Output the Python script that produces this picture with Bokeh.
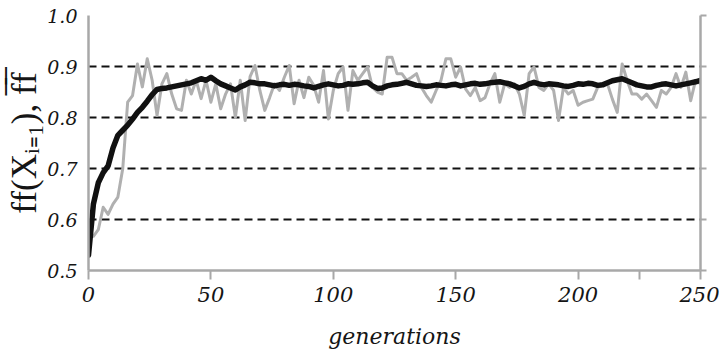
from bokeh.plotting import figure
from bokeh.models import Range1d, FixedTicker, LinearAxis, CustomLabelingPolicy
from bokeh.embed import file_html
from bokeh.resources import INLINE

# ---- data ----
generations = list(range(0, 251, 2))

best_fitness = [
    0.567, 0.567, 0.580, 0.624, 0.610, 0.630, 0.644, 0.700, 0.830, 0.843,
    0.905, 0.860, 0.915, 0.873, 0.804, 0.866, 0.886, 0.846, 0.817, 0.814,
    0.873, 0.846, 0.873, 0.837, 0.873, 0.830, 0.866, 0.817, 0.846, 0.866,
    0.800, 0.873, 0.794, 0.880, 0.902, 0.853, 0.814, 0.839, 0.866, 0.853,
    0.879, 0.902, 0.827, 0.873, 0.839, 0.879, 0.863, 0.830, 0.892, 0.797,
    0.853, 0.886, 0.899, 0.814, 0.892, 0.873, 0.886, 0.899, 0.859, 0.850,
    0.846, 0.918, 0.918, 0.886, 0.886, 0.873, 0.879, 0.886, 0.859, 0.843,
    0.830, 0.853, 0.873, 0.915, 0.915, 0.879, 0.899, 0.856, 0.843, 0.859,
    0.833, 0.839, 0.866, 0.886, 0.830, 0.866, 0.859, 0.866, 0.846, 0.804,
    0.886, 0.899, 0.859, 0.853, 0.866, 0.853, 0.794, 0.859, 0.846, 0.853,
    0.824, 0.830, 0.833, 0.836, 0.859, 0.863, 0.866, 0.836, 0.810, 0.905,
    0.873, 0.846, 0.846, 0.836, 0.846, 0.833, 0.820, 0.853, 0.846, 0.859,
    0.886, 0.859, 0.889, 0.833, 0.873, 0.866,
]

mean_fitness = [
    0.530, 0.630, 0.672, 0.692, 0.705, 0.740, 0.765, 0.775, 0.785, 0.797,
    0.810, 0.820, 0.832, 0.845, 0.855, 0.857, 0.858, 0.860, 0.862, 0.864,
    0.866, 0.868, 0.872, 0.876, 0.873, 0.879, 0.872, 0.866, 0.862, 0.858,
    0.854, 0.860, 0.864, 0.869, 0.868, 0.866, 0.866, 0.864, 0.862, 0.864,
    0.865, 0.863, 0.865, 0.864, 0.862, 0.861, 0.858, 0.861, 0.864, 0.866,
    0.864, 0.862, 0.863, 0.866, 0.865, 0.866, 0.868, 0.869, 0.862, 0.857,
    0.858, 0.862, 0.864, 0.865, 0.867, 0.869, 0.866, 0.863, 0.862, 0.861,
    0.862, 0.864, 0.863, 0.862, 0.864, 0.865, 0.862, 0.864, 0.866, 0.867,
    0.865, 0.866, 0.868, 0.869, 0.870, 0.868, 0.866, 0.862, 0.858, 0.861,
    0.866, 0.869, 0.866, 0.864, 0.866, 0.865, 0.864, 0.862, 0.861, 0.863,
    0.866, 0.865, 0.867, 0.866, 0.863, 0.864, 0.868, 0.872, 0.874, 0.876,
    0.872, 0.868, 0.864, 0.862, 0.860, 0.860, 0.863, 0.865, 0.866, 0.864,
    0.862, 0.864, 0.866, 0.868, 0.870, 0.873,
]

x_ticks = [0, 50, 100, 150, 200, 250]
x_minor_ticks = [225]
y_ticks = [0.5, 0.6, 0.7, 0.8, 0.9, 1.0]
y_tick_labels = ["0.5", "0.6", "0.7", "0.8", "0.9", "1.0"]
grid_values = [0.6, 0.7, 0.8, 0.9, 1.0]

x_label = "generations"
y_label = "ff(Xᵢ₌₁), f̅f̅"

AXIS_GREY = "#a8a8a8"
INK = "#151515"
ITALIC_SERIF = "DejaVu Serif"

p = figure(
    width=719, height=358,
    x_range=Range1d(0, 250), y_range=Range1d(0.5, 1.0),
    output_backend="svg", toolbar_location=None,
    min_border_left=88, min_border_right=19,
    min_border_top=15, min_border_bottom=88,
    x_axis_label=x_label, y_axis_label=y_label,
)
p.outline_line_color = None
p.background_fill_color = "white"
p.border_fill_color = "white"

# grid
p.xgrid.visible = False
p.ygrid.ticker = FixedTicker(ticks=grid_values)
p.ygrid.grid_line_color = "#111111"
p.ygrid.grid_line_dash = "8 5"
p.ygrid.grid_line_width = 2

# x axis
xa = p.xaxis[0]
xa.ticker = FixedTicker(ticks=x_ticks, minor_ticks=x_minor_ticks)
xa.axis_line_color = AXIS_GREY
xa.axis_line_width = 2.5
xa.major_tick_line_color = AXIS_GREY
xa.major_tick_line_width = 2
xa.major_tick_in = 0
xa.major_tick_out = 9
xa.minor_tick_line_color = AXIS_GREY
xa.minor_tick_line_width = 2
xa.minor_tick_in = 0
xa.minor_tick_out = 9
xa.major_label_text_font = ITALIC_SERIF
xa.major_label_text_font_style = "italic"
xa.major_label_text_font_size = "21px"
xa.major_label_text_color = INK
xa.major_label_standoff = 7
xa.axis_label_text_font = ITALIC_SERIF
xa.axis_label_text_font_style = "italic"
xa.axis_label_text_font_size = "22px"
xa.axis_label_text_color = INK
xa.axis_label_standoff = 19

# y axis
ya = p.yaxis[0]
ya.ticker = FixedTicker(ticks=y_ticks)
ya.major_label_overrides = {t: s for t, s in zip(y_ticks, y_tick_labels)}
ya.axis_line_color = AXIS_GREY
ya.axis_line_width = 2.5
ya.major_tick_line_color = None
ya.minor_tick_line_color = None
ya.major_label_text_font = ITALIC_SERIF
ya.major_label_text_font_style = "italic"
ya.major_label_text_font_size = "19px"
ya.major_label_text_color = INK
ya.major_label_standoff = 5
ya.axis_label_text_font = "Liberation Serif"
ya.axis_label_text_font_style = "normal"
ya.axis_label_text_font_size = "35px"
ya.axis_label_text_color = INK
ya.axis_label_standoff = 0

# right axis (no labels, outward ticks)
ra = LinearAxis(ticker=FixedTicker(ticks=y_ticks))
ra.axis_line_color = AXIS_GREY
ra.axis_line_width = 2.5
ra.major_tick_line_color = AXIS_GREY
ra.major_tick_line_width = 2
ra.major_tick_in = 0
ra.major_tick_out = 6
ra.minor_tick_line_color = None
ra.major_label_text_font_size = "1px"
ra.major_label_policy = CustomLabelingPolicy(
    code="for (const i of indices) { indices.unset(i) }")
ra.major_label_standoff = 0
p.add_layout(ra, "right")

# series
p.line(generations, best_fitness, line_color="#b0b0b0", line_width=3,
       line_join="round")
p.line(generations, mean_fitness, line_color="#111111", line_width=5.5,
       line_join="round", line_cap="round")

open("out.html", "w").write(file_html(p, INLINE))
